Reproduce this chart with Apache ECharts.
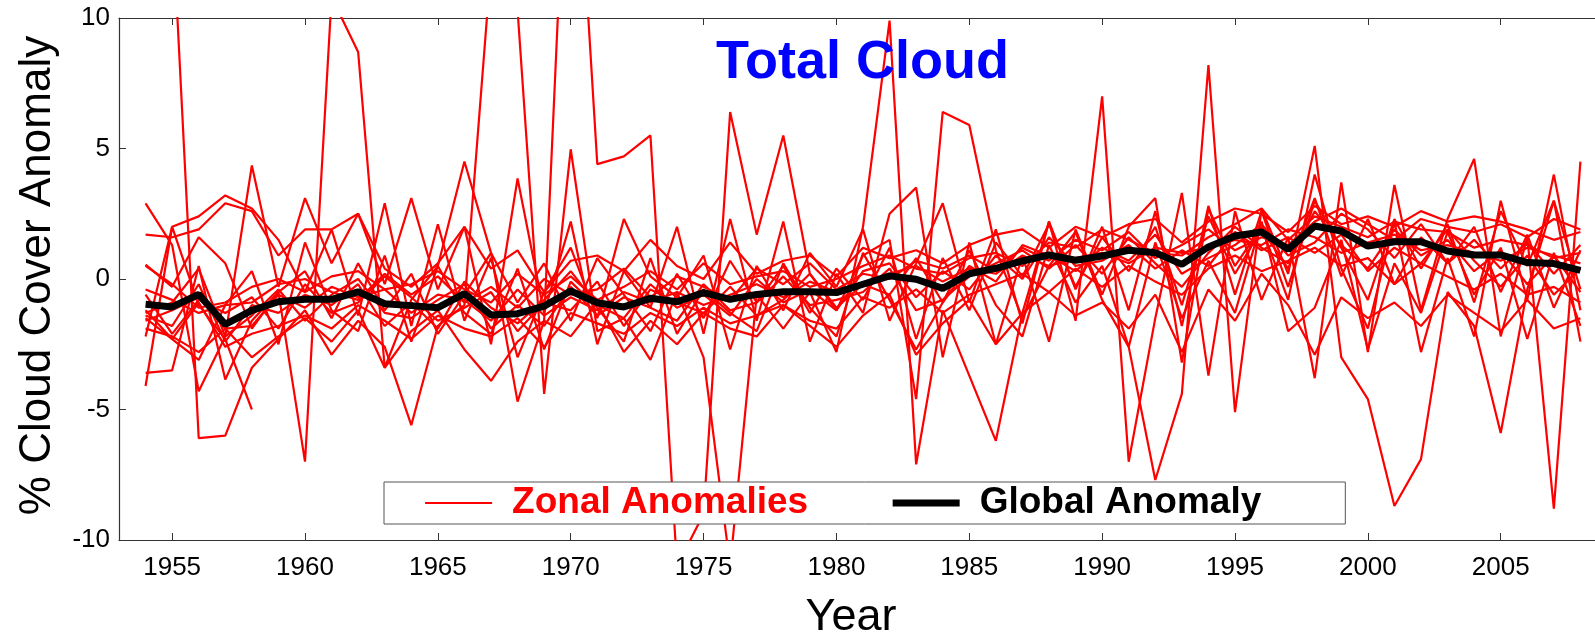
<!DOCTYPE html>
<html>
<head>
<meta charset="utf-8">
<script src="https://cdn.jsdelivr.net/npm/echarts@6/dist/echarts.min.js"></script>
<style>
html,body{margin:0;padding:0;background:#fff;}
#chart{width:1595px;height:632px;}
</style>
</head>
<body>
<div id="chart"></div>
<script>
// ---- data ----
const years = [];
for (let y = 1954; y <= 2008; y++) years.push(y);

const xTickValues = [1955, 1960, 1965, 1970, 1975, 1980, 1985, 1990, 1995, 2000, 2005];

const globalAnomaly = [
  -0.97,-1.07,-0.59,-1.74,-1.2,-0.87,-0.78,-0.78,-0.49,-0.95,
  -1.02,-1.1,-0.56,-1.38,-1.33,-1.04,-0.46,-0.91,-1.07,-0.74,
  -0.87,-0.52,-0.78,-0.59,-0.49,-0.49,-0.52,-0.2,0.12,-0.01,
  -0.36,0.2,0.41,0.69,0.92,0.72,0.88,1.1,1.01,0.56,
  1.23,1.65,1.8,1.14,2.03,1.84,1.26,1.43,1.43,1.07,
  0.92,0.92,0.63,0.59,0.33
];

const zonalP1 = [
  null,14,-6.1,-6.0,-3.4,-2.3,-1.2,-2.9,-1.6,-2.6,
  -5.6,-1.8,-1.0,12,10.3,-4.4,4.97,-2.0,-1.5,-3.1,
  -0.5,-3.0,-11,-0.6,-1.9,-0.5,-2.8,2.0,9.9,-7.1,
  -1.2,-3.7,-6.2,-1.3,2.2,-1.6,7.0,-7.0,-1.5,3.3,
  -3.7,2.6,-0.8,1.6,-3.8,3.7,-2.8,3.6,-1.2,2.3,
  4.6,-2.2,1.6,-8.8,4.5
];
const zonalP2 = [
  -3.6,-3.5,0.5,-3.85,-1.6,-0.5,-7.0,10.8,8.7,-3.4,
  -0.8,0.5,4.5,1.0,-4.7,-1.6,21,4.4,4.7,5.5,
  -11,-9.0,6.4,1.7,5.5,0.2,-1.2,0.9,1.5,-4.6,
  6.4,5.9,1.1,-1.5,0.5,1.8,-0.8,-2.6,-7.7,-4.4,
  8.2,-5.1,2.7,0.2,5.1,-3.0,-4.6,-8.7,-6.9,-0.5,
  -1.8,-5.9,-0.4,3.0,-2.4
];
const zonalP3 = [
  -4.1,2.0,-1.0,-2.3,-5.0,null,null,null,null,null,
  null,null,null,null,null,null,null,null,null,null,
  null,null,null,null,null,null,null,null,null,null,
  null,null,null,null,null,null,null,null,null,null,
  null,null,null,null,null,null,null,null,null,null,
  null,null,null,null,null
];
const zonalH1 = [
  2.9,1.3,-4.3,-2.2,4.35,-0.3,3.1,0.6,2.5,-0.2,
  3.1,-0.4,2.0,-2.5,3.85,-1.3,2.2,-2.5,0.3,-1.1,
  2.0,-2.1,2.3,-1.6,2.2,-2.4,0.2,-1.3,2.5,3.5,
  -3.0,1.4,-2.5,0.9,-2.4,1.9,-0.6,2.0,3.1,-3.2,
  2.7,0.5,2.0,-0.8,4.0,0.4,-1.9,2.2,-2.8,0.8,
  -2.2,3.0,-0.8,4.0,-1.2
];
const zonalH2 = [
  -2.2,2.0,2.4,3.2,2.7,1.5,-0.5,1.9,-1.4,2.9,
  -1.8,2.1,-1.6,0.8,-3.0,-0.5,1.2,-1.5,2.3,0.1,
  -0.7,0.9,-2.7,0.5,-1.2,1.0,-0.3,1.9,-1.6,0.6,
  2.9,-0.9,1.9,-1.7,2.2,-0.4,2.0,-1.2,2.6,-1.8,
  2.8,-0.6,2.6,-0.3,3.0,1.2,-0.8,2.3,0.4,2.1,
  -0.9,2.6,0.5,3.0,-0.4
];
const zonalH3 = [
  -1.2,-2.3,-3.1,-1.0,0.3,-2.5,1.4,-1.2,-2.0,0.9,
  -2.4,0.5,-1.3,-2.1,0.4,-2.7,-0.1,-1.1,-2.4,0.8,
  -2.1,-0.4,-1.3,-2.0,0.6,-1.1,-2.2,1.0,-0.8,-2.7,
  -0.9,1.1,-1.0,-2.2,1.3,-0.9,0.5,-2.6,1.4,-1.5,
  0.7,-1.3,2.2,-2.0,-1.1,1.5,-2.7,0.6,-1.3,1.8,
  -0.6,1.2,-2.3,1.0,-1.8
];
const zonalB1 = [
  0.5,-0.2,-1.1,-0.9,-0.3,0.0,-0.5,0.1,0.3,-0.4,
  -0.2,0.3,-0.4,-0.9,0.2,-0.6,0.1,-0.8,-0.3,0.3,
  -0.4,0.6,-0.2,0.1,0.3,-0.3,0.0,0.5,0.9,0.4,
  0.2,0.8,1.0,0.5,1.4,1.2,1.9,1.5,1.0,0.9,
  1.6,2.1,2.7,1.5,2.4,2.0,1.6,2.2,1.9,1.8,
  1.2,1.5,1.3,0.8,1.0
];
const zonalB2 = [
  -1.3,-0.9,0.4,-2.2,-1.4,-0.4,-1.6,-0.6,0.0,-1.3,
  -1.5,-0.8,-0.2,-1.9,-1.0,-1.8,-0.3,-1.4,-0.7,-1.1,
  -1.6,-0.2,-1.2,-0.9,0.1,-1.0,-0.8,-0.5,0.4,-1.2,
  -0.8,0.1,0.6,1.1,0.4,1.3,0.2,1.6,0.6,-0.3,
  1.0,2.0,1.2,0.6,2.6,1.3,0.4,1.9,0.9,1.5,
  0.3,1.1,-0.2,0.9,-0.5
];
const zonalB3 = [
  -0.6,-2.1,-0.8,-1.3,-0.7,-1.9,-0.2,-1.3,-0.9,0.1,
  -0.7,-1.6,-1.1,-0.5,-2.0,-0.9,-1.2,-0.1,-1.8,-0.4,
  -0.9,-1.3,-0.3,-1.4,-0.8,0.2,-1.1,-0.2,-0.6,0.8,
  -0.9,0.5,-0.1,1.3,0.9,0.3,1.2,0.7,1.7,0.2,
  0.8,1.3,2.1,0.9,1.4,2.5,1.9,0.8,2.1,0.6,
  1.5,0.4,1.4,0.2,1.3
];
const zonalB4 = [
  -1.5,-2.3,-0.9,-2.6,-2.1,-1.8,-1.4,-1.9,-1.0,-1.6,
  -2.3,-1.4,-1.9,-2.2,-1.5,-2.6,-1.3,-1.7,-2.1,-1.3,
  -1.8,-1.1,-1.7,-1.4,-1.0,-1.6,-1.9,-0.7,-1.1,-0.4,
  -1.3,-0.6,-0.2,0.2,-0.5,0.4,-0.3,0.5,-0.1,-0.6,
  0.4,0.9,0.3,0.7,1.2,0.5,0.8,-0.2,0.6,0.1,
  -0.4,0.2,-0.6,-0.3,-0.9
];
const zonalB5 = [
  1.7,1.6,1.9,2.9,2.6,0.9,1.9,1.9,2.5,0.4,
  -0.3,0.6,2.0,0.4,1.1,-0.5,0.7,0.9,0.3,1.5,
  0.5,0.0,1.4,0.2,0.7,0.9,0.1,1.2,0.8,1.1,
  0.6,1.3,1.7,1.9,1.2,2.0,1.6,2.1,2.3,1.4,
  2.2,2.7,2.5,1.8,2.8,2.1,2.4,2.0,2.6,2.2,
  2.4,2.2,1.9,1.5,1.8
];
const zonalB6 = [
  -1.4,-1.8,-0.2,-2.4,-1.0,-1.3,-0.6,-1.0,-0.2,-1.8,
  -0.9,-1.9,-0.1,-1.1,-1.7,-0.8,0.3,-1.0,-1.5,-0.2,
  -1.1,-0.6,-1.4,0.0,-0.9,-0.4,-1.2,0.3,0.6,-0.7,
  0.3,-0.4,0.9,0.0,1.6,0.5,0.7,1.3,0.4,1.1,
  0.5,1.8,1.1,1.6,1.0,1.7,0.3,1.2,0.6,1.9,
  0.7,-0.3,0.9,-0.6,0.4
];
const zonalB7 = [
  0.55,-0.3,1.6,0.6,-1.9,-0.5,0.3,-1.5,0.6,-1.2,
  0.2,-2.1,-0.6,1.0,-0.9,0.6,-1.6,0.8,-0.6,-2.0,
  0.2,-1.5,0.7,-0.9,0.5,-1.3,0.4,-0.8,1.2,-2.3,
  0.8,-1.2,1.4,0.1,2.1,-0.3,1.6,0.3,2.0,-1.0,
  2.4,0.2,1.9,0.4,3.1,0.1,2.3,-0.2,1.6,0.6,
  2.0,-0.5,1.7,-1.1,1.1
];
const zonalB8 = [
  -1.6,-1.2,-0.7,-1.9,-1.8,-0.6,-1.1,-0.3,-0.7,-0.4,
  -1.3,-0.6,-0.8,-1.6,-0.4,-1.4,-0.7,-1.2,-0.5,-0.9,
  -0.5,-1.0,-0.6,-0.2,-0.7,-0.1,-0.5,-0.2,0.2,0.5,
  -0.1,0.4,0.2,0.9,0.5,0.8,1.0,0.6,1.2,1.0,
  1.2,1.5,1.3,1.9,1.6,1.0,1.4,1.7,1.1,1.3,
  1.0,0.7,1.2,0.9,0.6
];
const zonalB9 = [
  -1.9,-2.2,-2.8,-1.9,-3.0,-2.2,-1.5,-2.4,-1.2,-3.4,
  -2.0,-1.2,-2.7,-3.9,-2.4,-1.6,-2.2,-0.9,-2.8,-1.6,
  -2.5,-1.3,-1.9,-2.2,-1.0,-1.8,-2.6,-1.4,-0.6,-2.9,
  -1.7,-0.8,-2.5,-1.3,-0.5,-1.4,-0.9,-1.9,-0.6,-2.8,
  -0.4,-1.6,0.2,-1.0,-2.9,-0.7,-1.5,-0.9,-1.8,-0.6,
  -1.3,-2.0,-0.8,-1.9,-1.5
];
const zonalB10 = [
  -0.4,-0.8,-1.3,-1.0,-0.9,-0.2,0.0,-0.5,-0.8,0.2,
  -0.6,0.1,-0.9,-0.3,-1.1,0.0,-0.6,-0.4,0.4,-0.7,
  0.1,-0.3,-0.8,0.4,-0.2,0.6,-0.4,0.2,0.0,0.7,
  0.4,0.9,0.3,1.2,0.7,1.5,1.1,1.8,0.8,1.3,
  1.9,1.1,1.6,1.3,2.2,2.7,2.1,1.5,2.3,2.0,
  1.8,2.1,1.6,2.3,1.9
];

const zonalSeries = [zonalP1, zonalP2, zonalP3, zonalH1, zonalH2, zonalH3,
  zonalB1, zonalB2, zonalB3, zonalB4, zonalB5, zonalB6, zonalB7, zonalB8, zonalB9, zonalB10];

// ---- chart ----
const FONT = 'Liberation Sans, Arial, Helvetica, sans-serif';
const pairs = vals => years.map((y, i) => [y, vals[i]]);

const series = zonalSeries.map(vals => ({
  name: 'Zonal Anomalies',
  type: 'line',
  xAxisIndex: 0,
  data: pairs(vals),
  symbol: 'none',
  showSymbol: false,
  connectNulls: false,
  lineStyle: { color: '#ff0000', width: 2.2 },
  itemStyle: { color: '#ff0000' },
  z: 2,
  silent: true
}));
series.push({
  name: 'Global Anomaly',
  type: 'line',
  xAxisIndex: 0,
  data: pairs(globalAnomaly),
  symbol: 'none',
  showSymbol: false,
  lineStyle: { color: '#000000', width: 7 },
  itemStyle: { color: '#000000' },
  z: 3,
  silent: true
});

const axisLineStyle = { color: '#333', width: 1.2 };

const chart = echarts.init(document.getElementById('chart'), null, { renderer: 'canvas' });
chart.setOption({
  animation: false,
  backgroundColor: '#ffffff',
  title: {
    text: 'Total Cloud',
    left: 716,
    top: 36,
    padding: 0,
    textStyle: { color: '#0000ff', fontSize: 54, fontWeight: 'bold', fontFamily: FONT }
  },
  legend: {
    left: 384,
    top: 482,
    orient: 'horizontal',
    padding: [2, 84, 2, 40],
    itemWidth: 67,
    itemHeight: 20,
    itemGap: 81,
    borderColor: '#555555',
    borderWidth: 1,
    backgroundColor: '#ffffff',
    itemStyle: { opacity: 0, borderWidth: 0 },
    textStyle: { fontSize: 37, fontWeight: 'bold', fontFamily: FONT, lineHeight: 38, padding: [0, 0, 0, 15] },
    data: [
      { name: 'Zonal Anomalies', textStyle: { color: '#ff0000' }, itemStyle: { opacity: 0, borderWidth: 0 }, lineStyle: { color: '#ff0000', width: 2.2 } },
      { name: 'Global Anomaly', textStyle: { color: '#000000' }, itemStyle: { opacity: 0, borderWidth: 0 }, lineStyle: { color: '#000000', width: 7 } }
    ],
    z: 10
  },
  grid: { left: 119, top: 18, width: 1488, height: 522, containLabel: false, outerBoundsMode: 'none' },
  xAxis: [{
    type: 'value',
    min: 1953,
    max: 2009,
    position: 'bottom',
    name: 'Year',
    nameLocation: 'middle',
    nameGap: 55,
    nameTextStyle: { fontSize: 45, color: '#000', fontFamily: FONT, padding: [0, 24, 0, 0] },
    axisLine: { show: true, onZero: false, lineStyle: axisLineStyle },
    axisTick: { show: true, inside: true, length: 7, customValues: xTickValues, lineStyle: { color: '#333' } },
    axisLabel: { show: true, customValues: xTickValues, margin: 15, fontSize: 26, color: '#000', fontFamily: FONT,
      formatter: v => String(v) },
    splitLine: { show: false }
  }, {
    type: 'value',
    min: 1953,
    max: 2009,
    position: 'top',
    axisLine: { show: true, onZero: false, lineStyle: axisLineStyle },
    axisTick: { show: true, inside: true, length: 7, customValues: xTickValues, lineStyle: { color: '#333' } },
    axisLabel: { show: false },
    splitLine: { show: false }
  }],
  yAxis: {
    type: 'value',
    min: -10,
    max: 10,
    interval: 5,
    name: '% Cloud Cover Anomaly',
    nameLocation: 'middle',
    nameGap: 59,
    nameTextStyle: { fontSize: 44, color: '#000', fontFamily: FONT, padding: [0, 0, 0, 7] },
    axisLine: { show: true, onZero: false, lineStyle: axisLineStyle },
    axisTick: { show: true, inside: true, length: 7, lineStyle: { color: '#333' } },
    axisLabel: { margin: 9, fontSize: 26, color: '#000', fontFamily: FONT },
    splitLine: { show: false }
  },
  series: series
});
</script>
</body>
</html>
